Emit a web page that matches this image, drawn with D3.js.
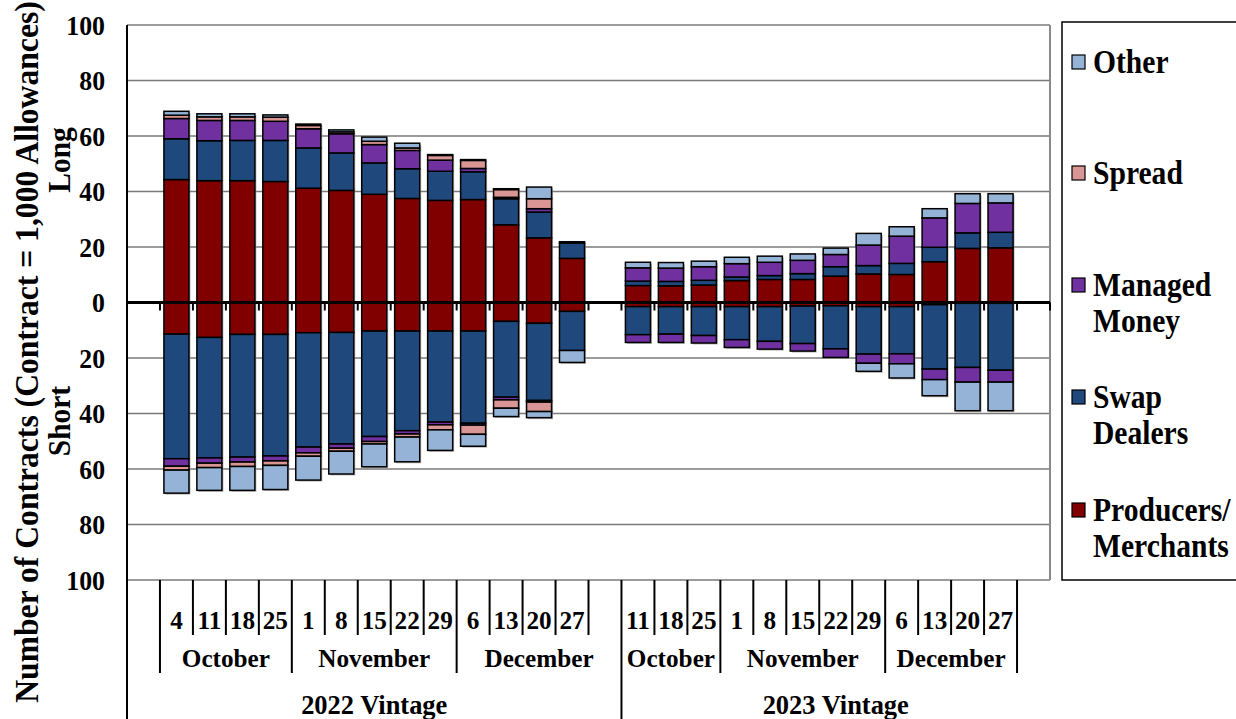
<!DOCTYPE html>
<html><head><meta charset="utf-8">
<script src="https://cdn.jsdelivr.net/npm/d3@7"></script>
<style>
body{margin:0;background:#fff}
</style>
</head><body>
<svg id="chart" width="1236" height="719" style="font-family:'Liberation Serif',serif;font-weight:bold"></svg>
<script>
// ---------- DATA ----------
const days = ["", "4","11","18","25","1","8","15","22","29","6","13","20","27","",
              "11","18","25","1","8","15","22","29","6","13","20","27",""];
const months = ["", "October","October","October","October",
  "November","November","November","November","November",
  "December","December","December","December","December",
  "October","October","October",
  "November","November","November","November","November",
  "December","December","December","December",""];
const vintages = d3.range(15).map(() => "2022 Vintage").concat(d3.range(13).map(() => "2023 Vintage"));

const seriesKeys = ["Producers/Merchants","Swap Dealers","Managed Money","Spread","Other"];
const seriesColors = ["#800000","#1F497D","#7030A0","#D99694","#95B3D7"];
const legendOrder = ["Other","Spread","Managed Money","Swap Dealers","Producers/Merchants"];
const legendLines = [["Other"],["Spread"],["Managed","Money"],["Swap","Dealers"],["Producers/","Merchants"]];

const longProducers = [0, 44.3,43.9,43.9,43.6, 41.2,40.4,39.0,37.5,36.8, 37.1,28.0,23.3,15.9, 0, 6.1,6.0,6.3, 7.9,8.3,8.3,9.5,10.3, 10.1,14.7,19.5,19.7, 0];
const longSwap      = [0, 14.7,14.4,14.5,14.8, 14.5,13.5,11.3,10.7,10.5, 10.0,9.4,9.3,5.5, 0, 1.6,1.6,1.7, 1.3,1.4,2.1,3.4,3.0, 4.0,5.2,5.6,5.6, 0];
const longManaged   = [0, 7.3,7.3,7.2,6.9, 6.9,6.9,6.6,6.6,4.0, 1.2,0.5,1.2,0, 0, 4.8,4.8,4.9, 4.8,4.8,4.8,4.4,7.4, 9.8,10.6,10.6,10.6, 0];
const longSpread    = [0, 1.2,1.3,1.3,1.5, 1.2,0.7,1.2,0.9,1.7, 2.9,2.8,3.6,0, 0, 0,0,0, 0,0,0,0,0, 0,0,0,0, 0];
const longOther     = [0, 1.4,1.1,1.1,0.8, 0.5,0.7,1.5,1.7,0.3, 0.3,0.3,4.2,0.5, 0, 2.0,2.0,2.0, 2.3,2.2,2.3,2.3,4.2, 3.4,3.3,3.5,3.3, 0];

const shortProducers = [0, 11.4,12.6,11.5,11.5, 10.9,10.8,10.3,10.3,10.3, 10.3,6.8,7.5,3.2, 0, 1.5,1.5,1.5, 1.5,1.5,1.3,1.2,1.5, 1.5,0.8,0.3,0.3, 0];
const shortSwap      = [0, 44.9,43.4,44.2,43.8, 41.2,40.2,38.0,35.9,32.8, 33.2,27.3,27.8,14.1, 0, 10.1,9.9,10.4, 11.9,12.5,13.5,15.5,17.1, 17.0,23.2,23.1,24.1, 0];
const shortManaged   = [0, 2.7,1.9,1.8,1.8, 2.1,1.5,1.8,1.2,1.0, 0.7,1.0,0.6,0, 0, 2.8,3.0,2.7, 2.8,2.8,2.7,3.1,3.3, 3.6,3.8,5.3,4.3, 0];
const shortSpread    = [0, 1.4,1.6,1.6,1.6, 1.2,1.1,0.9,1.1,1.8, 3.3,3.0,3.4,0, 0, 0,0,0, 0,0,0,0,0, 0,0,0,0, 0];
const shortOther     = [0, 8.3,8.2,8.6,8.7, 8.6,8.2,8.2,8.9,7.4, 4.3,3.0,2.2,4.3, 0, 0,0,0, 0,0,0,0,2.9, 5.1,5.8,10.3,10.3, 0];

const yTicks = [-100,-80,-60,-40,-20,0,20,40,60,80,100];
const yTitle = "Number of Contracts (Contract = 1,000 Allowances)";

// ---------- BUILD ----------
const FONT = "'Liberation Serif', serif";
const longSeries = [longProducers,longSwap,longManaged,longSpread,longOther];
const shortSeries = [shortProducers,shortSwap,shortManaged,shortSpread,shortOther];
const n = days.length;
const longRows = d3.range(n).map(i => { const o = {i}; seriesKeys.forEach((k,j)=>o[k]=longSeries[j][i]); return o; });
const shortRows = d3.range(n).map(i => { const o = {i}; seriesKeys.forEach((k,j)=>o[k]=-shortSeries[j][i]); return o; });
const stack = d3.stack().keys(seriesKeys);
const longStack = stack(longRows);
const shortStack = stack(shortRows);

const svg = d3.select("#chart");
const L = 127, R = 1050, T = 25, B = 580;
const x = d3.scaleBand().domain(d3.range(n)).range([L,R]).paddingInner(0.24).paddingOuter(0.12);
const step = x.step();
const catStart = i => L + i*step;
const y = d3.scaleLinear().domain([-100,100]).range([B,T]);
const color = d3.scaleOrdinal().domain(seriesKeys).range(seriesColors);

function txt(sel, size){
  return sel.style("font-family",FONT).style("font-weight","bold").style("font-size",size+"px").attr("fill","#000");
}

// gridlines
svg.append("g").selectAll("line").data(yTicks).join("line")
  .attr("x1",L).attr("x2",R).attr("y1",d=>y(d)).attr("y2",d=>y(d))
  .attr("stroke","#7a7a7a").attr("stroke-width",1.6);
svg.append("line").attr("x1",R).attr("x2",R).attr("y1",T).attr("y2",B)
  .attr("stroke","#8a8a8a").attr("stroke-width",2);

// y axis labels
const yAxis = svg.append("g").attr("transform",`translate(${L},0)`)
  .call(d3.axisLeft(y).tickValues(yTicks).tickSize(0).tickFormat(d=>Math.abs(d)));
yAxis.attr("font-family",null).attr("font-size",null);
yAxis.select(".domain").remove();
txt(yAxis.selectAll("text"),28).attr("x",0).attr("dy","0.33em")
  .attr("transform","translate(-22,0) scale(0.92,1)");

// bars: shadows
const totals = d3.range(n).map(i => ({i, top: d3.sum(longSeries, s=>s[i]), bot: d3.sum(shortSeries, s=>s[i])}));
svg.append("g").selectAll("rect").data(totals.filter(d=>d.top>0)).join("rect")
  .attr("x",d=>x(d.i)+1.5).attr("y",d=>y(d.top)+1.5)
  .attr("width",x.bandwidth()).attr("height",d=>y(-d.bot)-y(d.top))
  .attr("fill","#9c9c9c").attr("opacity",0.7);

function drawStack(st){
  svg.append("g").selectAll("g").data(st).join("g")
    .attr("fill",d=>color(d.key))
    .selectAll("rect").data(d=>d.filter(p=>Math.abs(p[1]-p[0])>0)).join("rect")
    .attr("x",p=>x(p.data.i))
    .attr("y",p=>y(Math.max(p[0],p[1])))
    .attr("width",x.bandwidth())
    .attr("height",p=>Math.abs(y(p[0])-y(p[1])))
    .attr("stroke","#000").attr("stroke-width",1.5);
}
drawStack(longStack);
drawStack(shortStack);

// zero line + ticks
svg.append("line").attr("x1",L).attr("x2",R).attr("y1",y(0)).attr("y2",y(0))
  .attr("stroke","#000").attr("stroke-width",3);
svg.append("g").selectAll("line").data(d3.range(n+1)).join("line")
  .attr("x1",b=>catStart(b)).attr("x2",b=>catStart(b))
  .attr("y1",y(0)).attr("y2",y(0)+8)
  .attr("stroke","#000").attr("stroke-width",2);

// left axis line
svg.append("line").attr("x1",L).attr("x2",L).attr("y1",T).attr("y2",719)
  .attr("stroke","#000").attr("stroke-width",2);

// category axis (multi-level)
const cat = svg.append("g");
const at = (arr,i) => (i>=0 && i<arr.length) ? arr[i] : "";
d3.range(1,n).forEach(b => {
  const xv = catStart(b);
  let y2 = null;
  if (at(vintages,b-1)!==at(vintages,b)) y2 = 719;
  else if (at(months,b-1)!==at(months,b) && (at(months,b-1)!==""||at(months,b)!=="")) y2 = 673;
  else if (at(days,b-1)!==""||at(days,b)!=="") y2 = 635;
  if (y2!==null) cat.append("line").attr("x1",xv).attr("x2",xv).attr("y1",B).attr("y2",y2)
    .attr("stroke","#000").attr("stroke-width",2);
});
txt(cat.append("g").selectAll("text").data(d3.range(n).filter(i=>days[i]!=="")).join("text"),26)
  .attr("transform",i=>`translate(${x(i)+x.bandwidth()/2},629) scale(0.97,1)`)
  .attr("text-anchor","middle").text(i=>days[i]);
function runs(arr){
  const out=[]; let s=0;
  for(let i=1;i<=arr.length;i++){ if(i===arr.length||arr[i]!==arr[s]){ out.push({label:arr[s],s,e:i}); s=i; } }
  return out.filter(r=>r.label!=="");
}
txt(cat.append("g").selectAll("text").data(runs(months)).join("text"),26)
  .attr("transform",r=>`translate(${(catStart(r.s)+catStart(r.e))/2},667) scale(0.97,1)`)
  .attr("text-anchor","middle").text(r=>r.label);
txt(cat.append("g").selectAll("text").data(runs(vintages)).join("text"),27)
  .attr("transform",r=>`translate(${(catStart(r.s)+catStart(r.e))/2},714) scale(0.98,1)`)
  .attr("text-anchor","middle").text(r=>r.label);

// y titles
txt(svg.append("text"),34).attr("transform","translate(38,352) rotate(-90) scale(0.93,1)")
  .attr("text-anchor","middle").text(yTitle);
txt(svg.append("text"),32).attr("transform","translate(70,160) rotate(-90) scale(0.92,1)")
  .attr("text-anchor","middle").text("Long");
txt(svg.append("text"),32).attr("transform","translate(70,421) rotate(-90) scale(0.92,1)")
  .attr("text-anchor","middle").text("Short");

// legend
svg.append("rect").attr("x",1062).attr("y",22).attr("width",220).attr("height",558)
  .attr("fill","#fff").attr("stroke","#000").attr("stroke-width",1.5);
const legendY = [62,173,285,397,510];
const lg = svg.append("g").selectAll("g").data(legendOrder).join("g")
  .attr("transform",(d,i)=>`translate(0,${legendY[i]})`);
lg.append("rect").attr("x",1072).attr("y",-7).attr("width",13).attr("height",14)
  .attr("fill",d=>color(d)).attr("stroke","#000").attr("stroke-width",1.2);
lg.each(function(d,i){
  const g = d3.select(this);
  legendLines[i].forEach((t,k)=>{
    txt(g.append("text"),34).attr("transform",`translate(1093,${11+k*36}) scale(0.87,1)`).text(t);
  });
});
</script>
</body></html>
